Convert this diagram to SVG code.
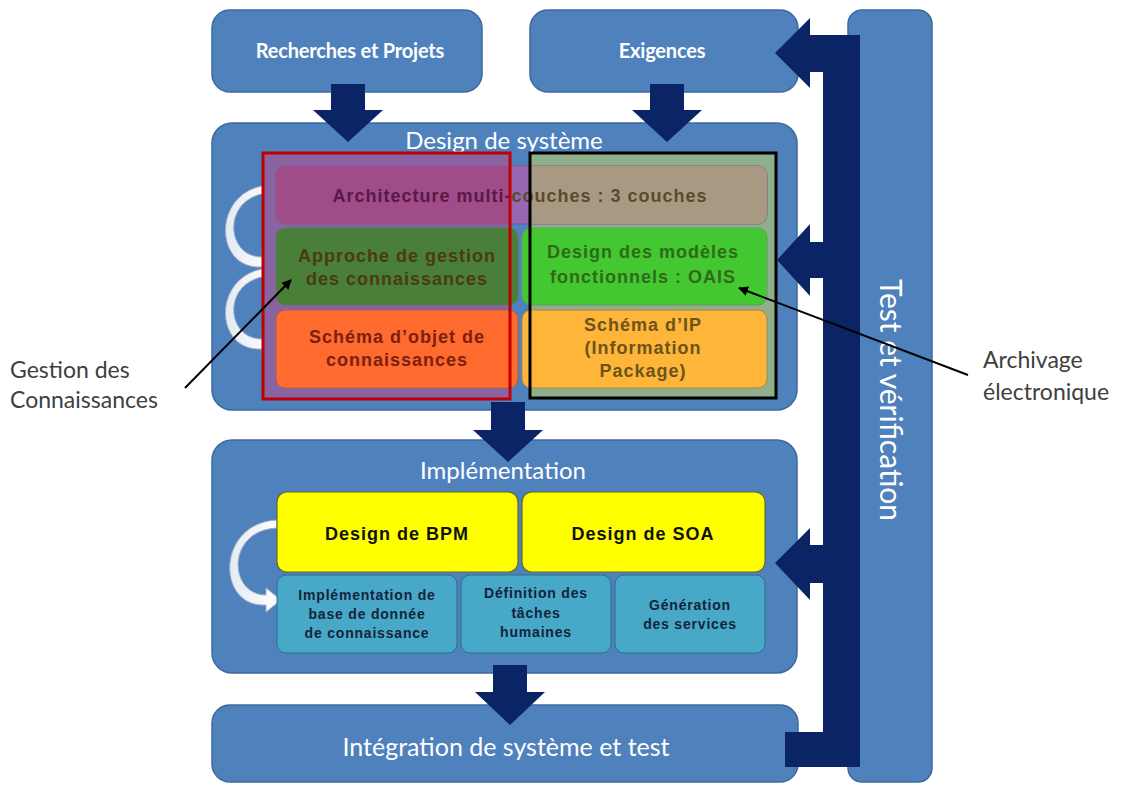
<svg xmlns="http://www.w3.org/2000/svg" width="1123" height="785" viewBox="0 0 1123 785">
<defs>
<style>
.blue{fill:#4f81bd;stroke:#3d6a9e;stroke-width:1.5}
.navy{fill:#0a2466}
.wt{fill:#ffffff;font-family:Lato,"Liberation Sans",sans-serif;text-anchor:middle}
.hd{font-size:20px;font-weight:bold;letter-spacing:-0.2px}
.cell{font-family:"Liberation Sans",Arial,sans-serif;font-weight:bold;font-size:18px;letter-spacing:1px;text-anchor:middle}
.sm{font-family:"Liberation Sans",Arial,sans-serif;font-weight:bold;font-size:14px;letter-spacing:0.8px;text-anchor:middle;fill:#13233a}
.loop{fill:url(#loopFill);stroke:#9fb0c8;stroke-width:1}
.note{fill:#404040;font-family:Lato,"Liberation Sans",sans-serif;font-size:23px}
.lead{stroke:#000000;stroke-width:2;fill:none}
</style>
<linearGradient id="loopFill" x1="0" y1="0" x2="1" y2="0">
<stop offset="0" stop-color="#e4eaf2"/>
<stop offset="1" stop-color="#ffffff"/>
</linearGradient>
<linearGradient id="archTxt" gradientUnits="userSpaceOnUse" x1="263" y1="0" x2="777" y2="0">
<stop offset="0" stop-color="#5a1846"/>
<stop offset="0.4825" stop-color="#5a1846"/>
<stop offset="0.4825" stop-color="#5b4a2e"/>
<stop offset="1" stop-color="#5b4a2e"/>
</linearGradient>
<marker id="ah" viewBox="0 0 10 10" refX="9" refY="5" markerWidth="5" markerHeight="5" orient="auto">
<path d="M0,0 L10,5 L0,10 Z" fill="#000000"/>
</marker>
</defs>

<g id="recherches">
<rect class="blue" x="212" y="10" width="270" height="82" rx="18"/>
<text class="wt hd" x="350" y="58">Recherches et Projets</text>
</g>
<g id="exigences">
<rect class="blue" x="530" y="10" width="268" height="82" rx="18"/>
<text class="wt hd" x="662" y="58">Exigences</text>
</g>

<g id="test-verification">
<rect class="blue" x="848" y="10" width="84" height="772" rx="14"/>
<text class="wt" font-size="30" transform="translate(880,400) rotate(90)">Test et vérification</text>
</g>

<g id="design-systeme">
<rect class="blue" x="212" y="123" width="585" height="287" rx="20"/>
<text class="wt" font-size="24" x="504" y="149">Design de système</text>
<path class="loop" d="M270,185 C212,188 212,270 262,267 L262,274 L277,262 L262,250 L262,257 C224,257 222,195 270,193 Z"/>
<path class="loop" d="M270,268 C212,271 212,352 262,349 L262,356 L277,344 L262,332 L262,339 C224,339 222,278 270,276 Z"/>
<rect x="263" y="153" width="247" height="246" fill="#8a63a3"/>
<rect x="530" y="153" width="246" height="245" fill="#8fae8a"/>
<g id="architecture">
<rect x="276" y="166" width="491" height="58" rx="9" fill="#9966b3" stroke="#7a5a8a" stroke-width="1"/>
<path d="M285,166 H510 V224 H285 A9,9 0 0 1 276,215 V175 A9,9 0 0 1 285,166 Z" fill="#a04c88"/>
<path d="M530,166 H758 A9,9 0 0 1 767,175 V215 A9,9 0 0 1 758,224 H530 Z" fill="#a89a82"/>
<text class="cell" x="520" y="202" fill="url(#archTxt)">Architecture multi-couches : 3 couches</text>
</g>
<g id="approche">
<rect x="276" y="228" width="242" height="77" rx="9" fill="#4a7f3a" stroke="#5d7a5a" stroke-width="1"/>
<text class="cell" x="397" y="262" fill="#4b3a14">Approche de gestion</text>
<text class="cell" x="397" y="285" fill="#4b3a14">des connaissances</text>
</g>
<g id="modeles-fonctionnels">
<rect x="522" y="228" width="245" height="77" rx="9" fill="#44c832" stroke="#6a9a6a" stroke-width="1"/>
<text class="cell" x="643" y="258" fill="#2e6b18">Design des modèles</text>
<text class="cell" x="643" y="283" fill="#2e6b18">fonctionnels : OAIS</text>
</g>
<g id="schema-objet">
<rect x="276" y="310" width="242" height="78" rx="9" fill="#ff6a2e" stroke="#a0664a" stroke-width="1"/>
<text class="cell" x="397" y="343" fill="#7a1f12">Schéma d’objet de</text>
<text class="cell" x="397" y="366" fill="#7a1f12">connaissances</text>
</g>
<g id="schema-ip">
<rect x="522" y="310" width="245" height="78" rx="9" fill="#ffb43a" stroke="#a0884a" stroke-width="1"/>
<text class="cell" x="643" y="331" fill="#6b5418">Schéma d’IP</text>
<text class="cell" x="643" y="354" fill="#6b5418">(Information</text>
<text class="cell" x="643" y="377" fill="#6b5418">Package)</text>
</g>
<rect id="red-frame" x="263" y="153" width="247" height="246" fill="none" stroke="#c00000" stroke-width="3"/>
<rect id="black-frame" x="530" y="153" width="246" height="245" fill="none" stroke="#000000" stroke-width="3"/>
</g>

<g id="implementation">
<rect class="blue" x="212" y="440" width="585" height="233" rx="20"/>
<text class="wt" font-size="24" x="503" y="479">Implémentation</text>
<path class="loop" d="M277,520 C216,523 216,608 266,605 L266,612 L281,600 L266,588 L266,595 C228,595 226,530 277,528 Z"/>
<g id="bpm">
<rect x="277" y="492" width="241" height="80" rx="10" fill="#ffff00" stroke="#6b6b20" stroke-width="1.2"/>
<text class="cell" x="397" y="540" fill="#111111">Design de BPM</text>
</g>
<g id="soa">
<rect x="522" y="492" width="243" height="80" rx="10" fill="#ffff00" stroke="#6b6b20" stroke-width="1.2"/>
<text class="cell" x="643" y="540" fill="#111111">Design de SOA</text>
</g>
<g id="base-donnee">
<rect x="277" y="575" width="180" height="78" rx="9" fill="#48a8c8" stroke="#2f6f88" stroke-width="1"/>
<text class="sm" x="367" y="600">Implémentation de</text>
<text class="sm" x="367" y="619">base de donnée</text>
<text class="sm" x="367" y="638">de connaissance</text>
</g>
<g id="taches-humaines">
<rect x="461" y="575" width="150" height="78" rx="9" fill="#48a8c8" stroke="#2f6f88" stroke-width="1"/>
<text class="sm" x="536" y="598">Définition des</text>
<text class="sm" x="536" y="618">tâches</text>
<text class="sm" x="536" y="637">humaines</text>
</g>
<g id="services">
<rect x="615" y="575" width="150" height="78" rx="9" fill="#48a8c8" stroke="#2f6f88" stroke-width="1"/>
<text class="sm" x="690" y="610">Génération</text>
<text class="sm" x="690" y="629">des services</text>
</g>
</g>

<g id="integration">
<rect class="blue" x="212" y="705" width="586" height="77" rx="18"/>
<text class="wt" font-size="25" x="506" y="756">Intégration de système et test</text>
</g>

<g id="connectors">
<path class="navy" d="M331,84 H365 V110 H383 L348,142 L313,110 H331 Z"/>
<path class="navy" d="M650,84 H684 V110 H702 L667,142 L632,110 H650 Z"/>
<path class="navy" d="M491,402 H525 V430 H543 L508,462 L473,430 H491 Z"/>
<path class="navy" d="M493,665 H527 V692 H545 L510,725 L475,692 H493 Z"/>
<path class="navy" d="M860,35 V767 H785 V732 H823 V583 H810 V600 L775,563 L810,528 V545 H823 V278 H810 V296 L777,260 L810,224 V242 H823 V72 H810 V88 L775,53 L810,18 V35 Z"/>
<line class="lead" x1="185" y1="388" x2="291" y2="280" marker-end="url(#ah)"/>
<line class="lead" x1="968" y1="375" x2="739" y2="288" marker-end="url(#ah)"/>
</g>

<g id="notes">
<text class="note" x="10" y="378">Gestion des</text>
<text class="note" x="10" y="408">Connaissances</text>
<text class="note" x="983" y="368">Archivage</text>
<text class="note" x="983" y="400">électronique</text>
</g>
</svg>
